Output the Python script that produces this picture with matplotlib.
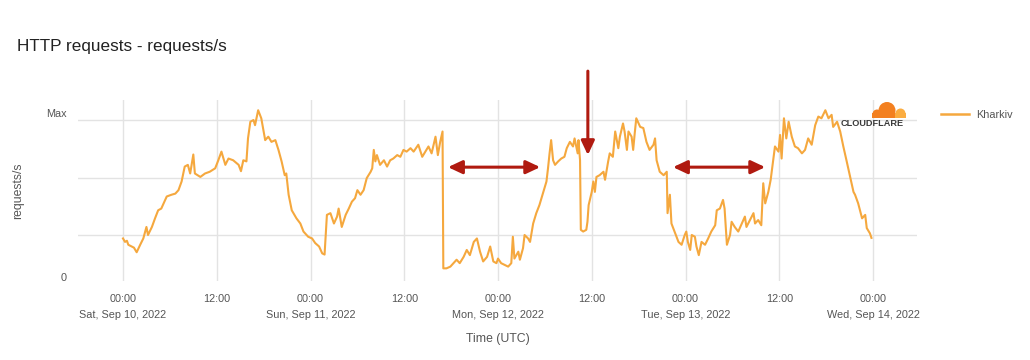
import matplotlib
matplotlib.use("Agg")
import matplotlib.pyplot as plt
from matplotlib.lines import Line2D
from matplotlib.patches import Circle, FancyArrowPatch, Rectangle

plt.rcParams["font.family"] = ["Liberation Sans", "DejaVu Sans"]

# Hours since Sat, Sep 10 2022 00:00 UTC and the relative request rate
HOURS = [
    # Sat
    0, 0.26, 0.5, 0.68, 1.1, 1.4, 1.75, 2.2, 2.6, 3.0, 3.2, 3.7, 4.1, 4.5, 4.9,
    5.6, 6.2, 6.7, 7.1, 7.5, 7.9, 8.3, 8.6, 9.0, 9.2, 9.9, 10.5, 11.1, 11.8,
    12.2, 12.6, 13.1, 13.5, 14.1, 14.8, 15.1, 15.4, 15.8, 16.0, 16.3, 16.7,
    16.9, 17.3, 17.7, 18.0, 18.2, 18.6, 19.0, 19.5, 19.9, 20.3, 20.7, 20.9,
    21.2, 21.6, 22.2, 22.7, 23.1, 23.7,
    # Sun
    24.2, 24.6, 25.1, 25.5, 25.8, 26.1, 26.55, 27.0, 27.4, 27.6, 28.0, 28.5,
    28.9, 29.3, 29.7, 30.0, 30.4, 30.8, 31.2, 31.7, 31.9, 32.1, 32.3, 32.5,
    32.9, 33.4, 33.8, 34.2, 34.6, 35.1, 35.5, 35.9, 36.3, 36.8, 37.2, 37.8,
    38.3, 38.7, 39.1, 39.5, 40.0, 40.3, 40.6, 40.9, 41.0, 41.4, 41.9, 42.3,
    42.7, 43.1, 43.6, 44.0, 44.4, 44.9, 45.3, 45.7, 46.1, 46.6, 47.0, 47.4,
    47.8,
    # Mon
    48.0, 48.4, 48.85, 49.3, 49.7, 49.9, 50.1, 50.6, 50.8, 51.2, 51.4, 51.85,
    52.1, 52.5, 52.9, 53.3, 53.8, 54.2, 54.4, 54.6, 54.8, 55.05, 55.3, 55.7,
    56.1, 56.5, 56.8, 57.2, 57.6, 57.8, 58.2, 58.3, 58.5, 58.6, 58.9, 59.3,
    59.45, 59.6, 60.0, 60.2, 60.4, 60.6, 61.0, 61.5, 61.7, 62.1, 62.3, 62.7,
    63.0, 63.4, 63.6, 64.0, 64.2, 64.5, 64.7, 65.1, 65.3, 65.5, 65.7, 66.2,
    66.6, 67.0, 67.4, 67.9, 68.1, 68.3, 68.7, 69.2, 69.6, 69.7, 70.0, 70.2,
    70.6, 71.1, 71.5, 71.9,
    # Tue
    72.1, 72.3, 72.6, 72.8, 73.2, 73.4, 73.7, 74.05, 74.5, 74.9, 75.3, 75.8,
    76.0, 76.4, 76.8, 77.0, 77.3, 77.7, 77.9, 78.3, 78.75, 79.2, 79.6, 79.8,
    80.25, 80.7, 80.9, 81.3, 81.7, 81.95, 82.2, 82.6, 82.9, 83.2, 83.45, 83.9,
    84.1, 84.3, 84.6, 84.9, 85.2, 85.6, 86.0, 86.4, 86.9, 87.3, 87.7, 88.15,
    88.6, 89.0, 89.4, 89.9, 90.3, 90.7, 90.9, 91.4, 91.8, 92.2, 92.6, 93.1,
    93.5, 93.7, 94.1, 94.6, 95.0, 95.2, 95.6, 95.8,
]

REQUESTS = [
    # Sat
    0.94, 0.88, 0.90, 0.83, 0.80, 0.78, 0.70, 0.83, 0.94, 1.14, 1.00, 1.14,
    1.29, 1.43, 1.46, 1.67, 1.70, 1.72, 1.78, 1.93, 2.19, 2.22, 2.07, 2.40,
    2.07, 2.01, 2.07, 2.10, 2.16, 2.30, 2.45, 2.22, 2.33, 2.30, 2.22, 2.11,
    2.30, 2.28, 2.68, 2.97, 3.00, 2.91, 3.17, 3.03, 2.80, 2.65, 2.71, 2.62,
    2.65, 2.48, 2.28, 2.04, 2.07, 1.70, 1.43, 1.29, 1.20, 1.06, 0.97,
    # Sun
    0.94, 0.86, 0.80, 0.68, 0.66, 1.35, 1.38, 1.20, 1.32, 1.46, 1.14, 1.35,
    1.46, 1.58, 1.64, 1.78, 1.70, 1.78, 1.99, 2.10, 2.16, 2.48, 2.28, 2.39,
    2.22, 2.30, 2.19, 2.30, 2.33, 2.39, 2.36, 2.48, 2.45, 2.51, 2.45, 2.57,
    2.36, 2.45, 2.54, 2.42, 2.71, 2.39, 2.62, 2.80, 0.42, 0.42, 0.45, 0.51,
    0.57, 0.51, 0.62, 0.74, 0.65, 0.88, 0.94, 0.71, 0.54, 0.62, 0.80, 0.54,
    0.51,
    # Mon
    0.59, 0.51, 0.48, 0.45, 0.51, 0.97, 0.59, 0.71, 0.57, 0.77, 1.00, 0.94,
    0.88, 1.20, 1.38, 1.52, 1.75, 1.93, 2.16, 2.42, 2.65, 2.30, 2.22, 2.28,
    2.33, 2.36, 2.51, 2.62, 2.54, 2.68, 2.42, 2.65, 2.30, 1.09, 1.06, 1.09,
    1.23, 1.52, 1.75, 1.93, 1.75, 2.01, 2.04, 2.10, 1.96, 2.28, 2.42, 2.36,
    2.80, 2.51, 2.71, 2.94, 2.80, 2.48, 2.80, 2.71, 2.48, 2.77, 3.03, 2.88,
    2.86, 2.62, 2.48, 2.57, 2.68, 2.30, 2.10, 2.04, 2.10, 1.38, 1.70, 1.20,
    1.06, 0.88, 0.83, 1.00,
    # Tue
    1.06, 0.88, 0.74, 1.00, 0.97, 0.80, 0.65, 0.88, 0.83, 0.94, 1.06, 1.17,
    1.43, 1.46, 1.61, 1.46, 0.83, 1.00, 1.23, 1.14, 1.06, 1.20, 1.32, 1.14,
    1.26, 1.38, 1.20, 1.26, 1.17, 1.90, 1.55, 1.75, 1.96, 2.28, 2.54, 2.45,
    2.74, 2.33, 3.03, 2.68, 2.97, 2.71, 2.54, 2.51, 2.42, 2.48, 2.68, 2.57,
    2.91, 3.06, 3.03, 3.17, 3.03, 3.09, 2.88, 2.97, 2.80, 2.54, 2.30, 1.99,
    1.75, 1.70, 1.55, 1.29, 1.35, 1.12, 1.03, 0.95,
]

TICK_HOURS = [0, 12, 24, 36, 48, 60, 72, 84, 96]
TICK_LABELS = [
    "00:00\nSat, Sep 10, 2022", "12:00",
    "00:00\nSun, Sep 11, 2022", "12:00",
    "00:00\nMon, Sep 12, 2022", "12:00",
    "00:00\nTue, Sep 13, 2022", "12:00",
    "00:00\nWed, Sep 14, 2022",
]
Y_TICKS = [0.275, 3.13]
Y_TICK_LABELS = ["0", "Max"]
Y_GRID = [1, 2, 3]

LINE_COLOR = "#F5A83E"
ARROW_COLOR = "#B01A10"
TEXT_COLOR = "#555555"
GRID_COLOR = "#E3E3E3"

W, H = 1030, 360
fig = plt.figure(figsize=(W / 100, H / 100), dpi=100)
fig.patch.set_facecolor("white")

ax = fig.add_axes([78 / W, 1 - 281 / H, (917 - 78) / W, (281 - 100) / H])
ax.plot(HOURS, REQUESTS, color=LINE_COLOR, lw=1.5, zorder=3)
ax.set_xlim(-5.76, 101.63)
ax.set_ylim(0.2, 3.348)

ax.set_xticks(TICK_HOURS)
ax.set_xticklabels(TICK_LABELS, fontsize=7.8, color=TEXT_COLOR, linespacing=1.75)
ax.set_yticks(Y_TICKS)
ax.set_yticklabels(Y_TICK_LABELS, fontsize=7.8, color=TEXT_COLOR)
ax.set_yticks(Y_GRID, minor=True)
ax.tick_params(axis="both", which="both", length=0)
ax.tick_params(axis="x", pad=9)
ax.tick_params(axis="y", pad=8)
ax.grid(axis="x", which="major", color=GRID_COLOR, lw=1)
ax.grid(axis="y", which="minor", color=GRID_COLOR, lw=1)
for s in ax.spines.values():
    s.set_visible(False)

# annotation arrows
arrow_kw = dict(transform=ax.transData, color=ARROW_COLOR, lw=2.2,
                mutation_scale=10, shrinkA=0, shrinkB=0, clip_on=False, zorder=5)
ax.add_patch(FancyArrowPatch((59.5, 3.85), (59.5, 2.39),
                             arrowstyle="-|>,head_length=0.85,head_width=0.4", **arrow_kw))
ax.add_patch(FancyArrowPatch((41.6, 2.18), (53.4, 2.18),
                             arrowstyle="<|-|>,head_length=0.85,head_width=0.4", **arrow_kw))
ax.add_patch(FancyArrowPatch((70.4, 2.18), (82.2, 2.18),
                             arrowstyle="<|-|>,head_length=0.85,head_width=0.4", **arrow_kw))

# texts
fig.text(17 / W, 1 - 46 / H, "HTTP requests - requests/s", fontsize=12.3,
         color="#222222", ha="left", va="center")
fig.text(18 / W, 1 - 191 / H, "requests/s", fontsize=8.8, color=TEXT_COLOR,
         rotation=90, ha="center", va="center")
fig.text(497.5 / W, 1 - 339 / H, "Time (UTC)", fontsize=8.8, color=TEXT_COLOR,
         ha="center", va="center")

# legend
fig.legend(handles=[Line2D([], [], color=LINE_COLOR, lw=1.8)], labels=["Kharkiv"],
           loc="center left", bbox_to_anchor=(941 / W, 1 - 115 / H),
           frameon=False, fontsize=7.8, handlelength=2.55, handletextpad=0.65,
           borderaxespad=0, borderpad=0, labelcolor=TEXT_COLOR)

# Cloudflare logo
logo = fig.add_axes([868 / W, 1 - 118 / H, 40 / W, 18 / H])
logo.set_xlim(868, 908)
logo.set_ylim(118, 100)
logo.axis("off")
logo.add_patch(Circle((900.5, 113.5), 5.0, color="#FBAD41", lw=0))
logo.add_patch(Rectangle((895, 113.5), 11, 5, color="#FBAD41", lw=0))
logo.add_patch(Circle((887, 110.5), 8.5, color="#F38020", lw=0))
logo.add_patch(Circle((877, 114), 4.5, color="#F38020", lw=0))
logo.add_patch(Rectangle((872.5, 113), 23, 5, color="#F38020", lw=0))
fig.text(872 / W, 1 - 124 / H, "CLOUDFLARE", fontsize=6.6, weight="bold",
         color="#3A3A3A", ha="center", va="center")

fig.savefig("out.png", dpi=100, facecolor="white")
